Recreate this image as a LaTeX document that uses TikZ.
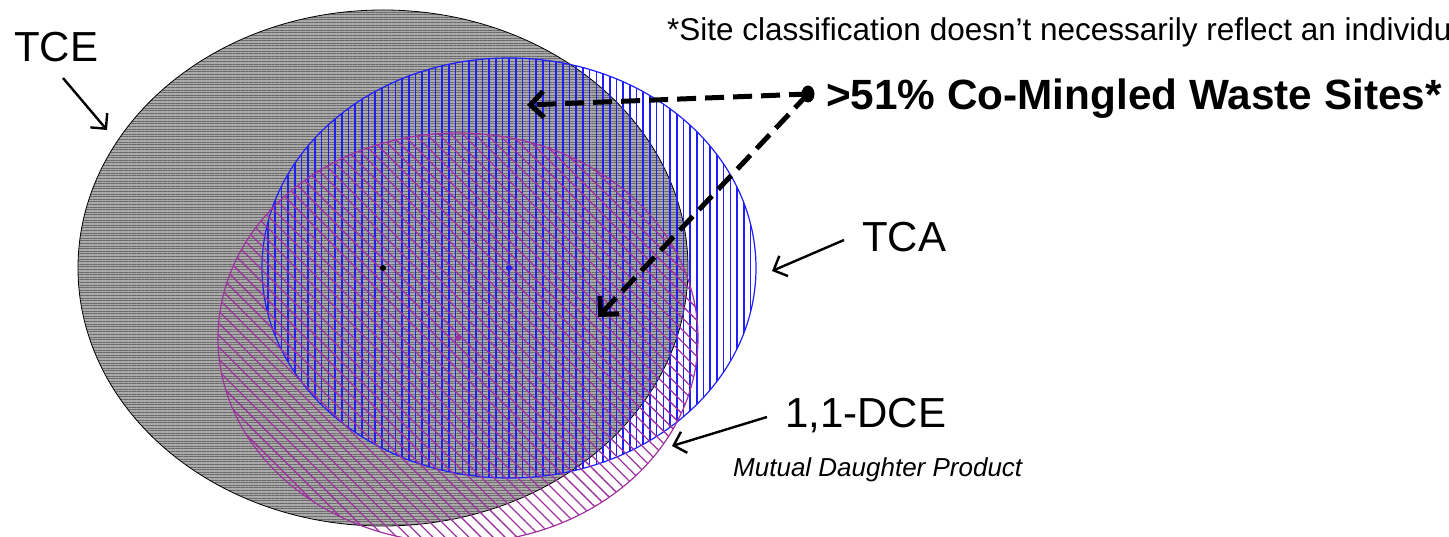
\documentclass[tikz,border=0pt]{standalone}
\usepackage{fontspec}
\setmainfont{Liberation Sans}
\usetikzlibrary{arrows.meta,patterns.meta,shapes.geometric}
\definecolor{tcegray}{RGB}{170,170,170}
\definecolor{tceline}{RGB}{105,105,105}
\definecolor{tcablue}{RGB}{30,30,255}
\definecolor{dcemag}{RGB}{160,50,160}
\tikzset{
  lbl/.style={anchor=base west, inner sep=0pt, font=\fontsize{42}{50}\selectfont},
  thinarrow/.style={line width=2.4pt, -{Straight Barb[length=11pt,width=22pt,line width=2.4pt]}},
  dasharrow/.style={line width=5pt, dash pattern=on 19pt off 9pt, -{Straight Barb[length=13pt,width=26pt,line width=5pt]}},
}
\begin{document}
\begin{tikzpicture}[x=1pt,y=-1pt]
\useasboundingbox (0,0) rectangle (1449,537);
\clip (0,0) rectangle (1449,537);
\coordinate (tce) at (383,268);
\coordinate (tca) at (509,268);
\coordinate (dce) at (458,338);
% TCE
\fill[tcegray] (tce) ellipse [x radius=305, y radius=258];
\fill[pattern={Lines[angle=0,distance=2.6pt,line width=0.5pt]}, pattern color=tceline] (tce) ellipse [x radius=305, y radius=258];
\draw[black, line width=0.8pt] (tce) ellipse [x radius=305, y radius=258];
% TCA
\fill[pattern={Lines[angle=90,distance=6.7pt,line width=1.6pt]}, pattern color=tcablue] (tca) ellipse [x radius=247, y radius=210];
\draw[tcablue, line width=1.2pt] (tca) ellipse [x radius=247, y radius=210];
% DCE
\fill[pattern={Lines[angle=-45,distance=8.5pt,line width=1.3pt]}, pattern color=dcemag] (dce) ellipse [x radius=240, y radius=205];
\draw[dcemag, line width=1.2pt] (dce) ellipse [x radius=240, y radius=205];
% centre dots
\fill[black] (tce) circle [radius=3];
\fill[tcablue] (tca) circle [radius=3];
\fill[dcemag] (dce) circle [radius=3];
% labels
\node[lbl] (tcelbl) at (14,62) {TCE};
\node[lbl] (tcalbl) at (862,252) {TCA};
\node[lbl] (dcelbl) at (785,428) {1,1-DCE};
\node[anchor=base west, inner sep=0pt, font=\fontsize{26}{30}\selectfont\itshape] (mdp) at (733,476) {Mutual Daughter Product};
\node[anchor=base west, inner sep=0pt, font=\fontsize{31.5}{36}\selectfont] (note) at (667,41) {*Site classification doesn’t necessarily reflect an individual};
\node[anchor=base west, inner sep=0pt, font=\fontsize{42.3}{50}\selectfont\bfseries] (cmw) at (826,110) {>51\% Co-Mingled Waste Sites*};
% label arrows
\coordinate (tceA) at (63,78); \coordinate (tceB) at (107,130);
\coordinate (tcaA) at (844,240); \coordinate (tcaB) at (772,271);
\coordinate (dceA) at (767,417); \coordinate (dceB) at (672,446);
\draw[thinarrow] (tceA) -- (tceB);
\draw[thinarrow] (tcaA) -- (tcaB);
\draw[thinarrow] (dceA) -- (dceB);
% co-mingled arrows
\node[fill=black, ellipse, inner sep=0pt, minimum width=13pt, minimum height=17pt] (dot) at (808,94) {};
\coordinate (leftTip) at (527,105);
\coordinate (downTip) at (598,317);
\draw[dasharrow] (dot.center) -- (leftTip);
\draw[dasharrow] (dot.center) -- (downTip);
\end{tikzpicture}
\end{document}
